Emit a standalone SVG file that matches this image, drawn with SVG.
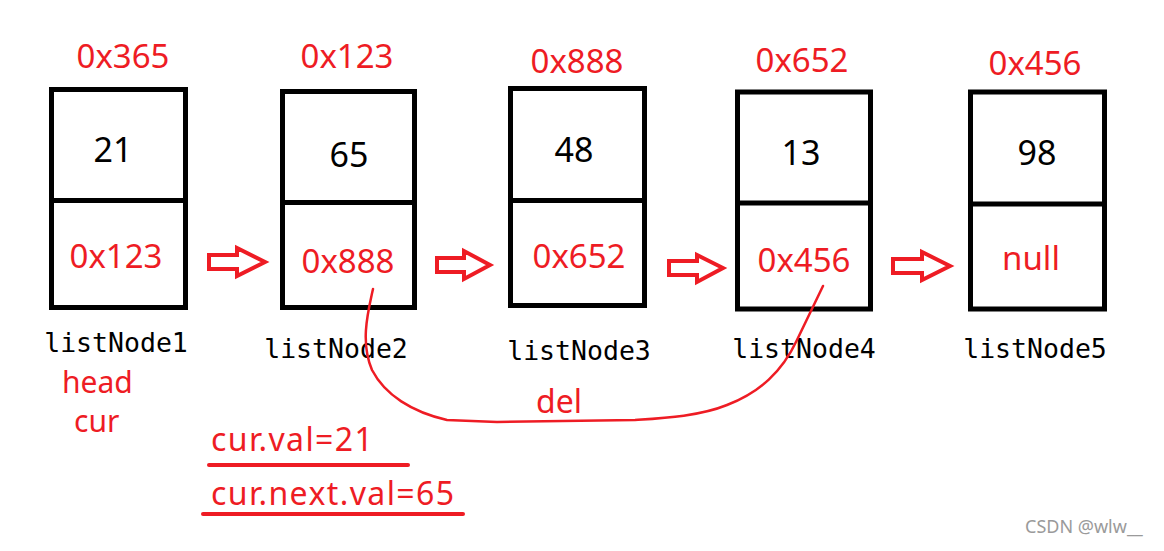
<svg xmlns="http://www.w3.org/2000/svg" width="1164" height="551" viewBox="0 0 1164 551">
<style>
.box{fill:none;stroke:#000;stroke-width:5}
.div{stroke:#000;stroke-width:5}
.addr{font-family:"Noto Sans","Liberation Sans",sans-serif;font-size:33px;fill:#ee1c24;text-anchor:middle}
.val{font-family:"Noto Sans","Liberation Sans",sans-serif;font-size:34px;fill:#000;text-anchor:middle}
.name{font-family:"DejaVu Sans Mono","Liberation Mono",monospace;font-size:26.5px;fill:#000;text-anchor:middle}
.note{font-family:"Noto Sans","Liberation Sans",sans-serif;font-size:32px;fill:#ee1c24}
.small{font-size:30px}
.eq{letter-spacing:1.4px}
.arrow{fill:none;stroke:#ee1c24;stroke-width:4;stroke-linejoin:miter}
.line{fill:none;stroke:#ee1c24;stroke-width:4;stroke-linecap:round}
</style>
<rect width="1164" height="551" fill="#fff"/>
<g id="node1">
<text class="addr" x="123" y="68">0x365</text>
<rect class="box" x="51.5" y="89.5" width="134" height="218"/>
<line class="div" x1="51.5" y1="200.5" x2="185.5" y2="200.5"/>
<text class="val" x="113" y="162">21</text>
<text class="addr" x="116" y="268">0x123</text>
<text class="name" x="116" y="352">listNode1</text>
</g>
<g id="node2">
<text class="addr" x="347" y="68">0x123</text>
<rect class="box" x="282.5" y="91.5" width="132" height="216"/>
<line class="div" x1="282.5" y1="202.5" x2="414.5" y2="202.5"/>
<text class="val" x="349" y="167">65</text>
<text class="addr" x="348" y="273">0x888</text>
<text class="name" x="336" y="358">listNode2</text>
</g>
<g id="node3">
<text class="addr" x="577" y="73">0x888</text>
<rect class="box" x="510.5" y="88.5" width="134" height="217"/>
<line class="div" x1="510.5" y1="200.5" x2="644.5" y2="200.5"/>
<text class="val" x="574" y="162">48</text>
<text class="addr" x="579" y="268">0x652</text>
<text class="name" x="579" y="360">listNode3</text>
</g>
<g id="node4">
<text class="addr" x="802" y="72">0x652</text>
<rect class="box" x="737.5" y="92" width="133" height="217"/>
<line class="div" x1="737.5" y1="203" x2="870.5" y2="203"/>
<text class="val" x="801" y="165">13</text>
<text class="addr" x="804" y="272">0x456</text>
<text class="name" x="804" y="358">listNode4</text>
</g>
<g id="node5">
<text class="addr" x="1035" y="75">0x456</text>
<rect class="box" x="970.5" y="92" width="134" height="217"/>
<line class="div" x1="970.5" y1="204" x2="1104.5" y2="204"/>
<text class="val" x="1037" y="165">98</text>
<text class="addr" x="1031" y="270">null</text>
<text class="name" x="1035" y="358">listNode5</text>
</g>
<g id="connectors">
<path class="arrow" d="M209,255 H237 V248 L265,262 L237,276 V269 H209 Z"/>
<path class="arrow" d="M437,258 H464 V251 L490,265 L464,279 V272 H437 Z"/>
<path class="arrow" d="M669,261 H697 V255 L723,268 L697,282 V275 H669 Z"/>
<path class="arrow" d="M893,259 H922 V252 L950,266 L922,280 V273 H893 Z"/>
<path fill="none" stroke="#ee1c24" stroke-width="2.5" stroke-linecap="round" d="M373,289 C368,312 360,342 372,370 C385,395 412,412 447,420 L497,422 L635,420 C665,418 700,416 727,405 C760,392 782,372 797,340 L823,286"/>
</g>
<g id="notes">
<text class="note small" x="62" y="393">head</text>
<text class="note small" x="74" y="432">cur</text>
<text class="note" x="536" y="413">del</text>
<text class="note eq" x="211" y="451">cur.val=21</text>
<line class="line" x1="209" y1="465" x2="408" y2="465"/>
<text class="note eq" x="211" y="505">cur.next.val=65</text>
<line class="line" x1="203" y1="514" x2="463" y2="514"/>
<text x="1025" y="533" font-family="Noto Sans, Liberation Sans, sans-serif" font-size="18" fill="#9a9a9a">CSDN @wlw__</text>
</g>
</svg>
